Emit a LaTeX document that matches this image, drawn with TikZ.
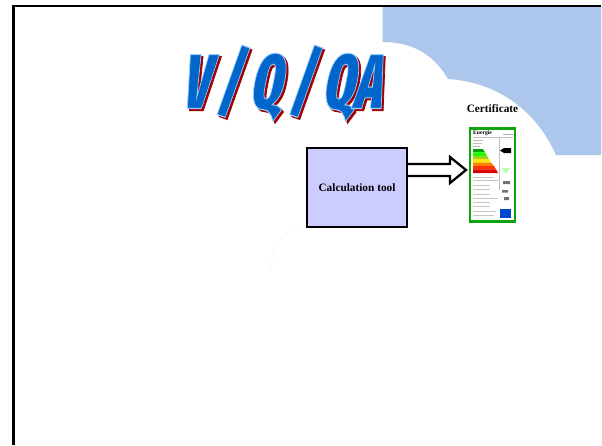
\documentclass[tikz,border=0pt]{standalone}
\usepackage{fontspec}
\setmainfont{Liberation Serif}
\newfontfamily\titlefont{Fira Sans Extra Condensed Black}
\usetikzlibrary{calc}
\definecolor{skyband}{HTML}{ACC6EC}
\definecolor{toolfill}{HTML}{CCCCFF}
\definecolor{certgreen}{HTML}{0CA50C}
\definecolor{titleblue}{HTML}{0066CC}
\definecolor{titleshadow}{HTML}{A00000}
\tikzset{
  x=1pt,y=-1pt,
  framing/.style={draw=black,line width=2.6pt},
  toolbox/.style={draw=black,line width=2.3pt,fill=toolfill,minimum width=100pt,minimum height=79pt,inner sep=0pt,font=\bfseries\fontsize{11.3}{12}\selectfont},
  caption/.style={inner sep=0pt,font=\bfseries\fontsize{11.3}{12}\selectfont},
  hollowarrow/.style={draw=black,line width=2.3pt,fill=white,line join=miter},
  titletext/.style={inner sep=0pt,anchor=base west,font=\titlefont\fontsize{46}{46}\selectfont,
     xslant=0.2,xscale=1.17,yscale=1.68},
}
\begin{document}
\begin{tikzpicture}
\useasboundingbox (0,0) rectangle (602,445);
\fill[white] (0,0) rectangle (602,445);
% sky band
\fill[skyband] (382.5,7) -- (601,7) -- (601,155) -- (556,155)
  .. controls (535,108) and (495,82) .. (448,79)
  .. controls (432,52) and (410,42) .. (382.5,42) -- cycle;
\draw[black!2,line width=1pt] (307,224) .. controls (285,228) and (271,245) .. (271,270);
% frame
\draw[framing] (13.5,445) -- (13.5,6) -- (601,6);
% title
\node[titletext,text=titleshadow] at (182.5,110.5) {\special{pdf:code 0.63 0 0 RG 2 Tr 0.6 w}V / Q / QA\special{pdf:code 0 Tr}};
\node[titletext,text=titleblue] at (180.5,108.5) {\special{pdf:code 0.6 0.8 1 RG 2 Tr 0.6 w}V / Q / QA\special{pdf:code 0 Tr}};
% tool
\node[toolbox] (calc) at (357,187.5) {Calculation tool};
\coordinate (certport) at (466,170);
\node[caption] (certlabel) at (492.5,109) {Certificate};
\node[draw=certgreen,line width=2.4pt,fill=white,minimum width=45pt,minimum height=93pt,inner sep=0pt] (cert) at (492.5,175) {};
% label contents
\node[inner sep=0pt,font=\bfseries\fontsize{5.6}{6}\selectfont,anchor=west] (certhead) at (473,133) {Energie};
\draw[black!30,line width=.8pt] (503,134) -- (513,134);
\draw[black!25,line width=.4pt] (473,137) -- (513,137) (499,137) -- (499,190);
\draw[black!25,line width=.9pt] (473,140) -- (483,140) (473,143) -- (482,143) (473,146) -- (480,146);
\fill[green!65!black] (473,149) -- (483,149) -- (485,152.4) -- (473,152.4) -- cycle;
\fill[green!90!yellow] (473,152.4) -- (485,152.4) -- (487,155.8) -- (473,155.8) -- cycle;
\fill[yellow!60!green] (473,155.8) -- (487,155.8) -- (489,159.2) -- (473,159.2) -- cycle;
\fill[yellow!90!orange] (473,159.2) -- (489,159.2) -- (491,162.6) -- (473,162.6) -- cycle;
\fill[orange] (473,162.6) -- (491,162.6) -- (494,166) -- (473,166) -- cycle;
\fill[red!60!orange] (473,166) -- (494,166) -- (496,169.4) -- (473,169.4) -- cycle;
\fill[red!85!black] (473,169.4) -- (496,169.4) -- (498,173) -- (473,173) -- cycle;
\fill[black] (500,150.5) -- (504,148) -- (511,148) -- (511,153) -- (504,153) -- cycle;
\fill[green!30] (502,168) -- (510,168) -- (506,174) -- cycle;
\draw[black!22,line width=1pt] (473,177) -- (494,177) (473,180) -- (498,180) (473,185) -- (490,185) (473,189) -- (490,189) (473,194) -- (490,194) (473,198) -- (498,198) (473,202) -- (490,202) (473,206) -- (490,206) (473,211) -- (496,211) (473,215) -- (494,215);
\fill[black!55] (503,181) rectangle (510,184) (502,190) rectangle (508,192.5) (504,197) rectangle (509,200);
\fill[blue!65!cyan!80!black] (500,209) rectangle (511,218);
% connector arrow
\draw[hollowarrow] (calc.east |- 0,164) -- (450,164) -- (450,157) -- (certport) -- (450,183) -- (450,176) -- (calc.east |- 0,176);
\end{tikzpicture}
\end{document}
